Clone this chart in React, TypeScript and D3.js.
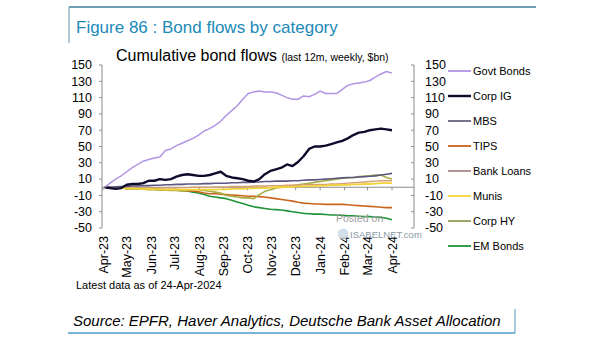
import React from "react";
import * as d3 from "d3";

const seriesNames = ["Govt Bonds", "Corp IG", "MBS", "TIPS", "Bank Loans", "Munis", "Corp HY", "EM Bonds"];
const seriesColors = ["#b294e4", "#0e0c2c", "#5c5680", "#c9651c", "#d8a070", "#f2d43a", "#a8ac44", "#1f9438"];
const legendColors = ["#b294e4", "#0e0c2c", "#6a6284", "#c9651c", "#a88c8c", "#f2d43a", "#8e9c58", "#1f9438"];
const seriesWidths = [1.5, 2.4, 1.6, 1.6, 1.4, 1.8, 1.6, 1.6];

const govtBonds = [0,5,10,14,19,24,28,32,34,36, 37,45,47,51,54,57,60,64,69,72, 76,81,88,94,100,108,115,117,118,117, 117,116,113,110,108,108,112,111,114,118, 115,115,115,120,125,127,128,129,131,135, 139,142,140];
const corpIG = [0,-1,-2,-1,3,4,4,5,8,8, 10,9,10,13,15,16,15,14,14,15, 17,19,14,12,11,10,8,7,10,16, 20,22,24,28,26,31,38,47,50,50, 51,53,55,57,60,64,67,68,70,71, 72,71,70];
const mbs = [0,0,0.5,1,1,1.5,1.5,2,2,2.5, 2.5,3,3,3.5,3.5,4,4,4,4.5,4.5, 5,5,5,5.5,5.5,6,6,6.5,6.5,7, 7,7.5,7.5,7.5,8,8,8.5,9,9,9.5, 10,10.5,11,11.5,12,12,12.5,13,13.5,14, 15,16,17];
const tips = [0,-0.5,-1,-1,-1.5,-1.5,-2,-2,-2.5,-2.5, -3,-3,-3.5,-3.5,-4,-4.5,-5,-5.5,-7,-8, -8,-8.5,-9,-9.5,-10,-10.5,-11,-11,-11.5,-12, -13,-14,-15,-16,-17,-18.5,-19.5,-20,-20.5,-20.5, -21,-21,-21,-21,-21.5,-22,-22.5,-23,-23.5,-24, -24.5,-25,-25];
const bankLoans = [0,0,-0.5,-0.5,-1,-1,-1,-1,-1,-1, -1,-1,-1,-1,-0.5,-0.5,0,0,0,0, 0.5,0.5,0.5,1,1,1,1,1.5,1.5,1.5, 2,2,2,2.5,2.5,2.5,3,3,3,3.5, 3.5,4,4,4.5,5,5.5,6,6.5,7,7.5, 8,8,8];
const munis = [0,-0.5,-1,-1,-1.5,-1.5,-2,-2,-2,-2.5, -2.5,-3,-3,-3,-3,-3,-3,-3,-3,-3, -3,-2.5,-2.5,-2,-2,-2,-1.5,-1.5,-1,-1, -0.5,0,0,0.5,0.5,1,1,1.5,1.5,2, 2,2.5,2.5,3,3,3.5,3.5,4,4,4.5, 5,5,5];
const corpHY = [0,-0.5,-1,-1,-1.5,-2,-2,-2.5,-3,-3, -3.5,-3.5,-4,-4,-4.5,-4,-3,-3,-4,-5, -6,-7,-10,-11,-12,-13,-13,-14,-9,-5, -3,-1,0,1,2,3,4,5,6,7, 8,9,10,11,11.5,12,13,13.5,14,15, 15,12,10];
const emBonds = [0,-0.5,-1,-1,-1.5,-1.5,-2,-2,-2,-2.5, -2.5,-3,-3,-3.5,-4,-4.5,-6,-7,-9,-11, -12,-13,-14,-16,-18,-20,-22,-24,-25,-26, -27,-27.5,-28,-29,-30,-31,-32,-32.5,-33,-33, -33.5,-34,-34,-34.5,-35,-35,-35.5,-36,-36,-36.5, -37,-38,-40];

const seriesValues = [govtBonds, corpIG, mbs, tips, bankLoans, munis, corpHY, emBonds];
const drawOrder = [7, 3, 6, 4, 5, 2, 1, 0];

const yTicks = [150, 130, 110, 90, 70, 50, 30, 10, -10, -30, -50];
const monthLabels = ["Apr-23", "May-23", "Jun-23", "Jul-23", "Aug-23", "Sep-23", "Oct-23", "Nov-23", "Dec-23", "Jan-24", "Feb-24", "Mar-24", "Apr-24"];

const firstDate = new Date(2023, 3, 26);
const dates = govtBonds.map((_, i) => d3.timeDay.offset(firstDate, 7 * i));
const tickDates = monthLabels.map((_, k) => d3.timeMonth.offset(new Date(2023, 3, 24), k));

const FONT = "'Liberation Sans', Arial, Helvetica, sans-serif";

export default function App() {
  const x = d3.scaleTime().domain([new Date(2023, 3, 24), new Date(2024, 3, 24)]).range([103, 392]);
  const y = d3.scaleLinear().domain([-50, 150]).range([228, 65]);
  const axL = 102;
  const axR = 414;
  const line = d3.line<number>().x((_, i) => x(dates[i])).y((v) => y(v)).curve(d3.curveLinear);

  return (
    <svg width={605} height={341} style={{ position: "absolute", left: 0, top: 0, background: "#fff" }} fontFamily={FONT}>
      {/* title box */}
      <line x1={69} y1={7} x2={536} y2={7} stroke="#3f7f9c" strokeWidth={1.5} />
      <line x1={69} y1={7} x2={69} y2={43} stroke="#7aa6b8" strokeWidth={1.2} />
      <text x={76} y={33} fontSize={17} fill="#2189b8">Figure 86 : Bond flows by category</text>

      <text x={116} y={61} fontSize={16} fill="#000">
        Cumulative bond flows <tspan fontSize={10.5}>(last 12m, weekly, $bn)</tspan>
      </text>

      {/* left axis */}
      <line x1={axL} y1={y(150)} x2={axL} y2={y(-50)} stroke="#8c8c8c" strokeWidth={1} />
      {yTicks.map((t) => (
        <g key={"l" + t}>
          <line x1={axL - 3} x2={axL} y1={y(t)} y2={y(t)} stroke="#8c8c8c" />
          <text x={92} y={y(t)} dy="0.35em" textAnchor="end" fontSize={12.5} fill="#000">{t}</text>
        </g>
      ))}
      {/* right axis */}
      <line x1={axR} y1={y(150)} x2={axR} y2={y(-50)} stroke="#8c8c8c" strokeWidth={1} />
      {yTicks.map((t) => (
        <g key={"r" + t}>
          <line x1={axR - 3} x2={axR} y1={y(t)} y2={y(t)} stroke="#8c8c8c" />
          <text x={425} y={y(t)} dy="0.35em" textAnchor="start" fontSize={12.5} fill="#000">{t}</text>
        </g>
      ))}
      {/* zero axis */}
      <line x1={axL} x2={axR} y1={y(0)} y2={y(0)} stroke="#8c8c8c" strokeWidth={1} />
      {tickDates.map((d, k) => (
        <g key={"x" + k}>
          <line x1={x(d)} x2={x(d)} y1={y(0)} y2={y(0) + 3} stroke="#8c8c8c" />
          <text transform={`translate(${x(d) + 4.5},236) rotate(-90)`} textAnchor="end" fontSize={12.5} fill="#000">{monthLabels[k]}</text>
        </g>
      ))}

      {/* series */}
      {drawOrder.map((s) => (
        <path key={seriesNames[s]} d={line(seriesValues[s]) || ""} fill="none" stroke={seriesColors[s]} strokeWidth={seriesWidths[s]} strokeLinejoin="round" />
      ))}

      {/* legend */}
      {seriesNames.map((n, k) => (
        <g key={"lg" + n}>
          <line x1={448} x2={471} y1={71 + 25 * k} y2={71 + 25 * k} stroke={legendColors[k]} strokeWidth={k === 1 ? 2.4 : 1.8} />
          <text x={473} y={71 + 25 * k} dy="0.35em" fontSize={11} fill="#000">{n}</text>
        </g>
      ))}

      {/* watermark */}
      <text x={336} y={222} fontSize={10.5} fill="#a0a0a0">Posted on</text>
      <circle cx={343} cy={234} r={5.5} fill="#c8d8e4" opacity={0.8} />
      <text x={350} y={238} fontSize={9.5} fill="#8a9aa4">ISABELNET.com</text>

      <text x={76} y={289} fontSize={11} fill="#000">Latest data as of 24-Apr-2024</text>

      {/* source box */}
      <line x1={68} y1={333} x2={515} y2={333} stroke="#4b9ccb" strokeWidth={1.5} />
      <line x1={515} y1={309} x2={515} y2={333} stroke="#6aa8cc" strokeWidth={1.2} />
      <text x={73} y={326} fontSize={15} fontStyle="italic" fill="#000">Source: EPFR, Haver Analytics, Deutsche Bank Asset Allocation</text>
    </svg>
  );
}
